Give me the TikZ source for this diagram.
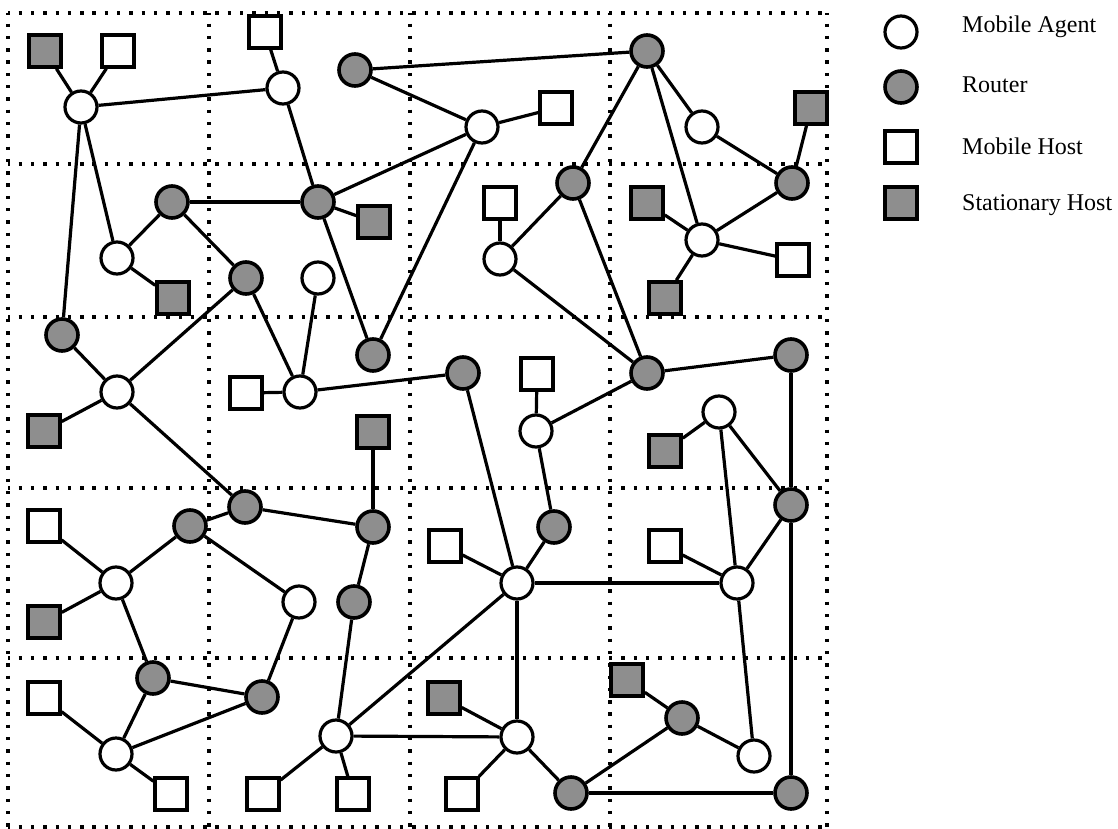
\documentclass[tikz,border=0pt]{standalone}
\usepackage{fontspec}
\setmainfont{Liberation Serif}
\definecolor{fillgray}{HTML}{8E8E8E}
\begin{document}
\begin{tikzpicture}[x=1pt,y=-1pt,
  agent/.style={circle, draw, line width=3.2pt, fill=white, minimum size=32pt, inner sep=0pt},
  router/.style={circle, draw, line width=3.6pt, fill=fillgray, minimum size=32pt, inner sep=0pt},
  mhost/.style={rectangle, draw, line width=3.2pt, fill=white, minimum size=32pt, inner sep=0pt},
  shost/.style={rectangle, draw, line width=3.6pt, fill=fillgray, minimum size=32pt, inner sep=0pt},
  link/.style={line width=3.2pt},
  gridline/.style={line width=3.6pt, line cap=butt, dash pattern=on 3.4pt off 8.9pt, dash phase=1.7pt},
  legtext/.style={anchor=base west, inner sep=0pt, font=\fontsize{24}{28}\selectfont}]
\useasboundingbox (0,0) rectangle (1118,829);
% grid
\foreach \gx in {8,209,410,610,827} \draw[gridline] (\gx,13) -- (\gx,827);
\foreach \gy in {13,164,317,488,658,827} \draw[gridline] (8,\gy) -- (827,\gy);
% nodes
\node[shost] (SHa) at (45,51) {};
\node[mhost] (MHa) at (118,51) {};
\node[agent] (MAa) at (81,107) {};
\node[mhost] (MHb) at (265,32) {};
\node[agent] (MAb) at (283,88) {};
\node[router] (Ra) at (355,70) {};
\node[router] (Rb) at (172,202) {};
\node[router] (Rc) at (318,202) {};
\node[shost] (SHb) at (374,222) {};
\node[agent] (MAc) at (117,258) {};
\node[router] (Rd) at (246,278) {};
\node[agent] (MAd) at (318,278) {};
\node[shost] (SHc) at (173,298) {};
\node[router] (Re) at (647,51) {};
\node[agent] (MAe) at (482,127) {};
\node[mhost] (MHc) at (556,108) {};
\node[agent] (MAf) at (702,127) {};
\node[shost] (SHd) at (811,108) {};
\node[router] (Rf) at (573,183) {};
\node[mhost] (MHd) at (500,203) {};
\node[shost] (SHe) at (647,203) {};
\node[router] (Rg) at (792,183) {};
\node[agent] (MAg) at (500,259) {};
\node[agent] (MAh) at (702,240) {};
\node[mhost] (MHe) at (793,260) {};
\node[shost] (SHf) at (665,298) {};
\node[router] (Rh) at (62,335) {};
\node[agent] (MAi) at (117,392) {};
\node[shost] (SHg) at (44,431) {};
\node[mhost] (MHf) at (246,393) {};
\node[agent] (MAj) at (300,392) {};
\node[router] (Ri) at (373,355) {};
\node[shost] (SHh) at (373,432) {};
\node[mhost] (MHg) at (44,526) {};
\node[router] (Rj) at (245,507) {};
\node[router] (Rk) at (190,526) {};
\node[router] (Rl) at (373,527) {};
\node[router] (Rm) at (463,373) {};
\node[mhost] (MHh) at (537,374) {};
\node[agent] (MAk) at (536,431) {};
\node[router] (Rn) at (647,373) {};
\node[router] (Ro) at (791,355) {};
\node[agent] (MAl) at (719,412) {};
\node[shost] (SHi) at (665,451) {};
\node[router] (Rp) at (791,505) {};
\node[router] (Rq) at (554,527) {};
\node[mhost] (MHi) at (445,546) {};
\node[mhost] (MHj) at (665,546) {};
\node[agent] (MAm) at (116,583) {};
\node[shost] (SHj) at (44,622) {};
\node[agent] (MAn) at (299,602) {};
\node[router] (Rr) at (354,602) {};
\node[router] (Rs) at (153,678) {};
\node[router] (Rt) at (262,697) {};
\node[mhost] (MHk) at (44,698) {};
\node[agent] (MAo) at (116,754) {};
\node[mhost] (MHl) at (171,794) {};
\node[mhost] (MHm) at (263,794) {};
\node[agent] (MAp) at (336,736) {};
\node[mhost] (MHn) at (353,794) {};
\node[agent] (MAq) at (517,583) {};
\node[agent] (MAr) at (737,583) {};
\node[shost] (SHk) at (444,698) {};
\node[agent] (MAs) at (517,737) {};
\node[shost] (SHl) at (627,680) {};
\node[router] (Ru) at (682,718) {};
\node[agent] (MAt) at (754,756) {};
\node[mhost] (MHo) at (462,794) {};
\node[router] (Rv) at (571,793) {};
\node[router] (Rw) at (791,793) {};
% links
\foreach \a/\b in {SHa/MAa, MHa/MAa, MAa/MAb, MHb/MAb, MAb/Rc, MAa/Rh, MAa/MAc, Rb/MAc, Rb/Rc, Rb/Rd,
  Rc/SHb, Rc/MAe, Rc/Ri, Ri/MAe, Ra/Re, Ra/MAe, MAe/MHc, Re/Rf, Re/MAh, Re/MAf, MAf/Rg, Rg/SHd, Rg/MAh,
  SHe/MAh, MAh/MHe, MAh/SHf, MHd/MAg, MAg/Rf, Rf/Rn, MAg/Rn, MAc/SHc, Rd/MAi, Rd/MAj, MAd/MAj, Rh/MAi,
  SHg/MAi, MAi/Rj, MHf/MAj, MAj/Rm, SHh/Rl, Rj/Rk, Rj/Rl, MHg/MAm, Rk/MAm, Rk/MAn, Rl/Rr, Rm/MAq,
  MHh/MAk, MAk/Rn, MAk/Rq, Rn/Ro, Ro/Rp, MAl/SHi, MAl/Rp, MAl/MAr, Rp/MAr, MHj/MAr, MHi/MAq, SHj/MAm,
  MAm/Rs, MAn/Rt, Rr/MAp, Rs/Rt, Rs/MAo, MAo/Rt, MHk/MAo, MAo/MHl, MHm/MAp, MAp/MHn, MAp/MAq, MAp/MAs,
  Rq/MAq, MAq/MAr, MAq/MAs, MAr/MAt, Rp/Rw, SHk/MAs, MAs/MHo, MAs/Rv, SHl/Ru, Ru/MAt, Ru/Rv, Rv/Rw}
  \draw[link] (\a) -- (\b);
% legend
\node[agent] (LA) at (901,32) {};
\node[router] (LR) at (901,87) {};
\node[mhost] (LM) at (901,147) {};
\node[shost] (LS) at (901,203) {};
\node[legtext] (TA) at (962,33) {Mobile Agent};
\node[legtext] (TR) at (962,93) {Router};
\node[legtext] (TM) at (962,155) {Mobile Host};
\node[legtext] (TS) at (962,211) {Stationary Host};
\end{tikzpicture}
\end{document}
